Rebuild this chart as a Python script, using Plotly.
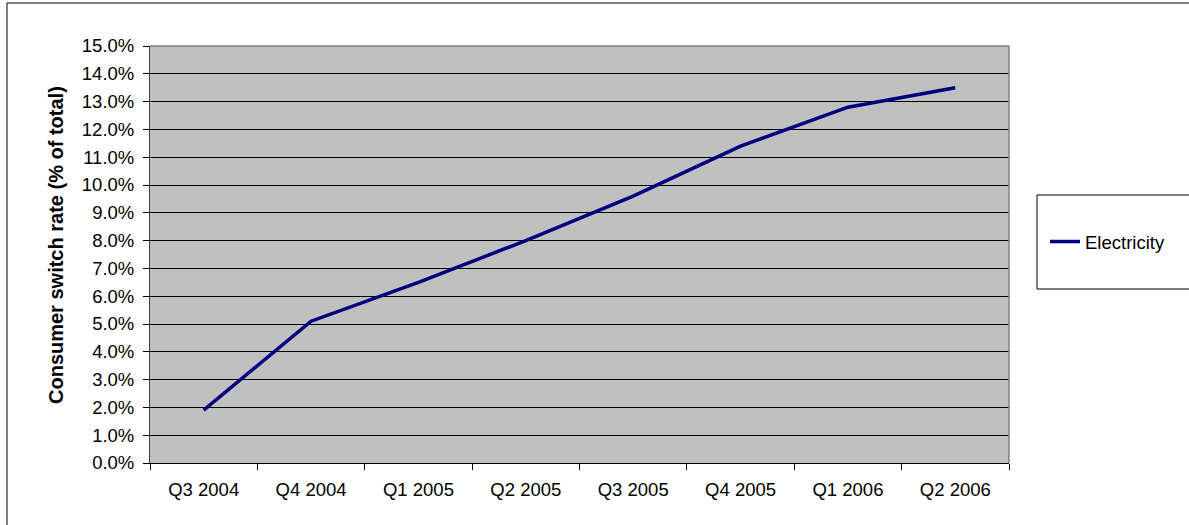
import plotly.graph_objects as go

quarters = ["Q3 2004", "Q4 2004", "Q1 2005", "Q2 2005",
            "Q3 2005", "Q4 2005", "Q1 2006", "Q2 2006"]
electricity = [1.9, 5.1, 6.5, 8.0, 9.6, 11.4, 12.8, 13.5]  # % of total
y_ticks = list(range(0, 16))
y_tick_text = [f"{v:.1f}%" for v in y_ticks]

W, H = 1189, 525
L, R, T, B = 150, 1009, 46, 463  # plot area in pixels
pw, ph = R - L, B - T


def px(x):
    return (x - L) / pw


def py(y):
    return (B - y) / ph


fig = go.Figure()
fig.add_trace(go.Scatter(
    x=quarters, y=electricity, mode="lines", name="Electricity",
    line=dict(color="#000080", width=3.5),
))

font = "Liberation Sans, Arial, sans-serif"
fs = 18.5
fig.update_layout(
    width=W, height=H,
    margin=dict(l=L, r=W - R, t=T, b=H - B, pad=0),
    paper_bgcolor="white", plot_bgcolor="#C0C0C0",
    font=dict(family=font, size=fs, color="black"),
    showlegend=True,
    legend=dict(x=px(1045), y=py(242), xanchor="left", yanchor="middle",
                bgcolor="rgba(0,0,0,0)", borderwidth=0,
                font=dict(family=font, size=fs, color="black")),
    xaxis=dict(
        type="category", range=[-0.5, 7.5], tickson="boundaries",
        ticks="outside", ticklen=6, tickcolor="black",
        showgrid=False, showline=True, linecolor="black", linewidth=1,
        tickfont=dict(size=fs), ticklabelstandoff=10, fixedrange=True,
    ),
    yaxis=dict(
        range=[0, 15], tickvals=y_ticks, ticktext=y_tick_text,
        ticks="outside", ticklen=6, tickcolor="black",
        showgrid=True, gridcolor="black", gridwidth=1,
        showline=True, linecolor="#404040", linewidth=1,
        zeroline=False, tickfont=dict(size=fs), ticklabelstandoff=5,
    ),
    annotations=[
        dict(text="<b>Consumer switch rate (% of total)</b>",
             xref="paper", yref="paper", x=px(56), y=py(245),
             xanchor="center", yanchor="middle", textangle=-90,
             showarrow=False, font=dict(family=font, size=20)),
    ],
    shapes=[
        # top and right edges of the plot area
        dict(type="line", xref="paper", yref="paper", x0=0, x1=1, y0=1, y1=1,
             line=dict(color="#808080", width=1.5)),
        dict(type="line", xref="paper", yref="paper", x0=1, x1=1, y0=0, y1=1,
             line=dict(color="#808080", width=1.5)),
        # legend frame
        dict(type="rect", xref="paper", yref="paper",
             x0=px(1037), x1=px(1200), y0=py(289), y1=py(195),
             line=dict(color="black", width=1)),
        # chart frame
        dict(type="rect", xref="paper", yref="paper",
             x0=px(7), x1=px(1200), y0=py(540), y1=py(3),
             line=dict(color="black", width=1), layer="below"),
    ],
)

fig.write_html("out.html")
